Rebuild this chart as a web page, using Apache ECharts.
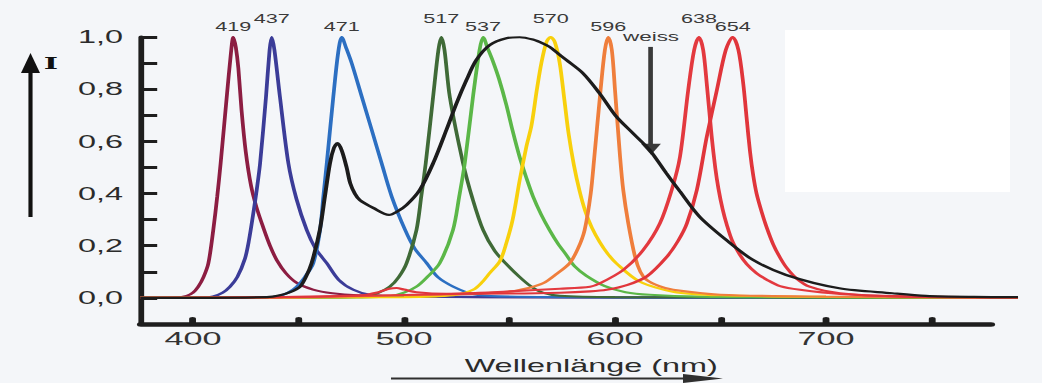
<!DOCTYPE html>
<html>
<head>
<meta charset="utf-8">
<script src="https://cdn.jsdelivr.net/npm/echarts@6/dist/echarts.min.js"></script>
<style>
  html, body { margin: 0; padding: 0; background: #f4f6f9; overflow: hidden; }
  #chart { width: 579px; height: 383px; transform-origin: 0 0; }
</style>
</head>
<body>
<div id="chart"></div>
<script>
// spectra: [wavelength nm, relative intensity]
const spec419 = [[375,0],[392,0.002],[397,0.008],[400,0.02],[402.5,0.043],[405,0.08],[407.3,0.133],[409.6,0.26],[411.5,0.39],[413.1,0.516],[416,0.771],[418,0.94],[419.1,1],[420.3,0.96],[421.5,0.88],[423,0.72],[425,0.56],[427.5,0.43],[430,0.35],[433.3,0.27],[436.5,0.2],[439.7,0.145],[444,0.095],[449.1,0.058],[456.9,0.032],[466,0.018],[478,0.01],[500,0.006],[550,0.003],[650,0.001],[791,0]]
const spec437 = [[375,0],[405,0.002],[409.5,0.006],[414,0.02],[417.5,0.043],[421,0.08],[424.6,0.15],[426.5,0.22],[428.5,0.32],[430.3,0.42],[431.8,0.516],[434.6,0.771],[436.3,0.95],[437.3,1],[438.6,0.95],[441.2,0.771],[445.2,0.516],[449,0.38],[453.9,0.26],[458,0.19],[463.4,0.133],[469,0.07],[476,0.031],[483.9,0.012],[500,0.006],[550,0.003],[650,0.001],[791,0]]
const spec471 = [[375,0],[435,0.002],[440,0.006],[445,0.02],[449.1,0.043],[453,0.08],[457,0.133],[460.2,0.26],[461.8,0.39],[463.4,0.516],[466.5,0.771],[468.8,0.94],[470.5,1],[472.5,0.96],[475.2,0.9],[480,0.771],[484.7,0.644],[489.4,0.516],[494.2,0.388],[500.5,0.261],[505,0.19],[510.8,0.133],[516,0.08],[523.4,0.043],[532.7,0.015],[545,0.006],[600,0.002],[791,0]]
const spec517 = [[375,0],[470,0.002],[482.2,0.006],[488,0.02],[493.3,0.043],[497.5,0.08],[501.2,0.133],[505.9,0.26],[508.2,0.39],[510.3,0.516],[513.8,0.771],[516.3,0.95],[517.7,1],[519.2,0.95],[521.7,0.771],[528,0.516],[532.5,0.38],[537.5,0.26],[543,0.18],[548.5,0.13],[554.8,0.08],[560,0.045],[565.7,0.02],[573.8,0.008],[600,0.003],[791,0]]
const spec537 = [[375,0],[480,0.002],[493.3,0.006],[500,0.02],[505.9,0.043],[511,0.08],[516.9,0.133],[523.2,0.26],[526.2,0.39],[528.8,0.516],[532.7,0.771],[535.8,0.95],[537.5,1],[539.5,0.96],[542,0.91],[545,0.84],[548.5,0.74],[551.5,0.64],[554.8,0.54],[558,0.46],[561.1,0.39],[565,0.32],[569,0.26],[572.8,0.21],[576.9,0.165],[581,0.12],[586.4,0.085],[595.2,0.045],[605,0.022],[616.4,0.012],[640,0.005],[700,0.002],[791,0]]
const spec570 = [[375,0],[500,0.003],[515,0.006],[524.9,0.012],[532.7,0.031],[537,0.06],[540.6,0.095],[545.4,0.14],[548.5,0.21],[551.5,0.3],[554.8,0.45],[558,0.58],[560.4,0.66],[563,0.8],[565.1,0.9],[567.5,0.98],[569.5,1],[571.5,0.98],[573.8,0.9],[576,0.76],[578,0.63],[580.5,0.51],[583.2,0.41],[586,0.33],[589,0.27],[592.7,0.215],[596.5,0.17],[600.6,0.133],[611.6,0.063],[627.4,0.024],[649.5,0.01],[700,0.004],[791,0.001]]
const spec596 = [[375,0],[440,0.001],[470,0.005],[500,0.01],[530,0.015],[550.1,0.024],[558,0.036],[565.9,0.056],[572,0.09],[578.5,0.133],[582.5,0.19],[585.6,0.26],[588.5,0.4],[590.2,0.54],[593.2,0.8],[595.2,0.95],[596.8,1],[598.5,0.95],[600,0.797],[602.4,0.541],[603.9,0.414],[606.3,0.286],[609.5,0.158],[612,0.1],[615,0.069],[621,0.045],[627.6,0.031],[650,0.012],[700,0.005],[791,0.001]]
const spec638 = [[375,0],[440,0.003],[480,0.008],[520,0.015],[550,0.025],[573.9,0.035],[588.2,0.043],[592.9,0.056],[603.9,0.107],[613.4,0.184],[621.3,0.286],[626.9,0.414],[630.8,0.541],[634.7,0.797],[637.5,0.95],[639.8,1],[641.8,0.95],[643.5,0.82],[645.8,0.62],[647.5,0.5],[649,0.42],[651,0.34],[653,0.28],[655.5,0.22],[659.2,0.165],[662.4,0.13],[667,0.095],[671.9,0.07],[678.2,0.045],[687.7,0.031],[706.6,0.015],[735,0.006],[791,0.002]]
const spec654 = [[375,0],[440,0.003],[480,0.01],[488,0.022],[493,0.035],[496.5,0.038],[500,0.032],[506,0.022],[520,0.016],[550,0.017],[573.9,0.02],[588.2,0.025],[596,0.031],[606,0.05],[615,0.082],[624.6,0.158],[630,0.22],[634.1,0.286],[638.8,0.414],[643.5,0.618],[648.3,0.797],[652.5,0.95],[655.8,1],[658.5,0.95],[660.8,0.82],[662.5,0.68],[664,0.56],[665.5,0.47],[667.1,0.4],[669.5,0.33],[671.9,0.27],[675,0.205],[678.2,0.155],[681.4,0.115],[686,0.075],[692.2,0.043],[706.6,0.018],[735,0.006],[791,0.002]]
const specWeiss = [[375,0],[435,0.003],[441.2,0.01],[446,0.022],[450.7,0.043],[453.5,0.08],[456.2,0.133],[460.1,0.26],[462.5,0.388],[464.9,0.516],[466.8,0.575],[468.5,0.593],[470.5,0.565],[472.8,0.5],[474.5,0.44],[476.7,0.4],[479.1,0.375],[485.4,0.345],[492.9,0.318],[497,0.332],[501.2,0.356],[507.5,0.414],[513.8,0.516],[520.1,0.644],[524.9,0.746],[529.6,0.835],[534.3,0.912],[540.6,0.969],[548.5,0.995],[554.8,0.999],[561.1,0.99],[566,0.975],[569,0.962],[572.5,0.94],[576.9,0.912],[584.8,0.861],[592.7,0.784],[600.6,0.695],[608.5,0.631],[616.4,0.567],[624.3,0.478],[630.6,0.41],[640.1,0.311],[652.7,0.222],[665.3,0.146],[681.1,0.088],[706.3,0.037],[731.4,0.018],[747.4,0.008],[770,0.004],[791,0.003]]

const seriesNames = ['419', '437', '471', '517', '537', '570', '596', '638', '654', 'weiss']
const seriesData = [spec419, spec437, spec471, spec517, spec537, spec570, spec596, spec638, spec654, specWeiss]

// axis ticks and labels
const xTickValues = [400, 450, 500, 550, 600, 650, 700, 750]
const xLabelValues = [400, 500, 600, 700]
const yTickValues = [0, 0.1, 0.2, 0.3, 0.4, 0.5, 0.6, 0.7, 0.8, 0.9, 1.0]
const yLabelValues = [0, 0.2, 0.4, 0.6, 0.8, 1.0]

const colors = ['#8c1d42', '#3b3c98', '#2c6fc2', '#3f6a37', '#5bb748', '#f8d00c', '#ef7e3c', '#e3393f', '#e0353b', '#1c1c1c']

// the picture is a horizontally stretched scan, so the chart is drawn
// narrow and stretched back with css
const S = 1042 / 579
const px = x => x / S
const nmAt = x => 400 + (x - 193) / 2.11   // picture x -> wavelength

const chartDom = document.getElementById('chart')
chartDom.style.transform = 'scaleX(' + S + ')'
const myChart = echarts.init(chartDom, null, {renderer: 'svg'})

const font = 'Liberation Sans'

const series = seriesData.map((data, i) => {
  const isWhite = seriesNames[i] === 'weiss'
  const s = {
    name: seriesNames[i],
    type: 'line',
    xAxisIndex: 0,
    yAxisIndex: 0,
    data: data,
    showSymbol: false,
    smooth: 0.3,
    z: isWhite ? 5 : 2,
    lineStyle: {color: colors[i], width: isWhite ? 2.2 : 2.1},
    itemStyle: {color: colors[i]}
  }
  if (!isWhite) {
    s.markPoint = {
      symbol: 'circle',
      symbolSize: 0,
      silent: true,
      data: [{type: 'max', valueDim: 'y'}],
      label: {
        show: true,
        position: 'top',
        distance: i % 2 ? 12 : 4,
        formatter: seriesNames[i],
        fontSize: 12,
        fontFamily: font,
        color: '#3a3a3a'
      }
    }
  } else {
    s.markLine = {
      silent: true,
      symbol: ['none', 'triangle'],
      symbolSize: 11,
      lineStyle: {color: '#3a3a3a', width: 2.6, type: 'solid'},
      label: {show: true, position: 'start', formatter: 'weiss', distance: 4,
              fontSize: 12.5, fontFamily: font, color: '#3a3a3a'},
      data: [[{coord: [nmAt(651), 0.962]}, {coord: [nmAt(651), 0.57]}]]
    }
  }
  return s
})

const option = {
  animation: false,
  grid: [
    {left: px(141), top: 37, width: px(1018) - px(141), height: 287},
    {left: px(141), top: 37, width: px(991) - px(141), height: 287}
  ],
  xAxis: [
    {gridIndex: 0, type: 'value', min: nmAt(141), max: nmAt(1018), show: false},
    {
      gridIndex: 1, type: 'value', min: nmAt(141), max: nmAt(991),
      axisLine: {onZero: false, lineStyle: {color: '#1e1e1e', width: 4.5}},
      axisTick: {inside: true, length: 5, customValues: xTickValues,
                 lineStyle: {color: '#1e1e1e', width: 3.8, cap: 'round'}},
      axisLabel: {customValues: xLabelValues, margin: 5, fontSize: 19, fontFamily: font, color: '#333'},
      splitLine: {show: false},
      name: 'Wellenlänge (nm)',
      nameLocation: 'middle',
      nameGap: 33,
      nameTextStyle: {fontSize: 18, fontFamily: font, color: '#2b2b2b', padding: [0, 0, 0, 28]}
    }
  ],
  yAxis: [
    {
      gridIndex: 0, type: 'value', min: -0.1, max: 1,
      axisLine: {show: true, onZero: false, lineStyle: {color: '#1e1e1e', width: 3.2}},
      axisTick: {show: true, inside: true, length: 9, customValues: yTickValues,
                 lineStyle: {color: '#1e1e1e', width: 3}},
      axisLabel: {customValues: yLabelValues, margin: 10, fontSize: 18, fontFamily: font, color: '#2b2b2b',
                  formatter: v => v.toFixed(1).replace('.', ',')},
      splitLine: {show: false}
    },
    {gridIndex: 1, type: 'value', min: -0.1, max: 1, show: false}
  ],
  graphic: [
    // white patch on the scan
    {type: 'rect', z: -1, shape: {x: px(785), y: 30, width: px(1010) - px(785), height: 162}, style: {fill: '#ffffff'}},
    // intensity arrow
    {type: 'line', shape: {x1: px(30.5), y1: 217, x2: px(30.5), y2: 68}, style: {stroke: '#111', lineWidth: 2.3}},
    {type: 'polygon', shape: {points: [[px(30.5), 53], [px(21), 73], [px(40), 73]]}, style: {fill: '#111'}},
    {type: 'text', x: px(51), y: 63, style: {text: 'I', fontSize: 17, fontWeight: 'bold', fontFamily: 'DejaVu Serif',
      fill: '#111', align: 'center', verticalAlign: 'middle'}},
    // wavelength arrow
    {type: 'line', shape: {x1: px(391), y1: 378.5, x2: px(690), y2: 378.5}, style: {stroke: '#2f2f2f', lineWidth: 1.8}},
    {type: 'polygon', shape: {points: [[px(723), 378.5], [px(683), 374], [px(683), 383]]}, style: {fill: '#2f2f2f'}}
  ],
  series: series
}

myChart.setOption(option)
</script>
</body>
</html>
